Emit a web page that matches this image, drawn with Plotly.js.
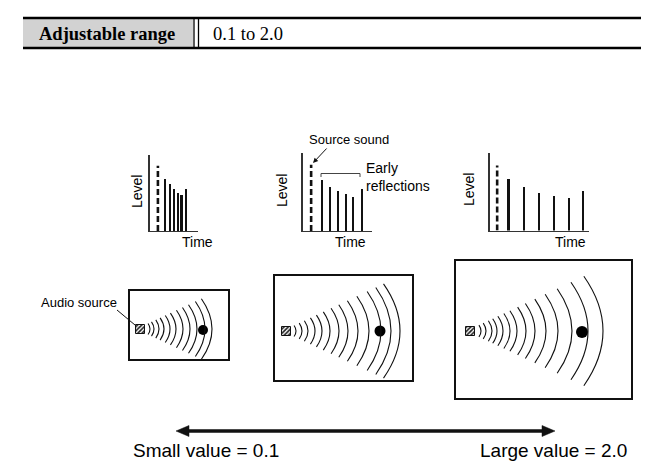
<!DOCTYPE html>
<html><head><meta charset="utf-8">
<script src="https://cdn.plot.ly/plotly-3.0.1.min.js"></script>
<style>html,body{margin:0;padding:0;background:#fff}</style>
</head><body><div id="chart" style="width:648px;height:461px"></div>
<script>
// ---- data ----
const panelNames = ["Small value = 0.1", "Large value = 2.0"];
const rangeLabel = "Adjustable range";
const rangeValue = "0.1 to 2.0";

// source-sound level (dashed) and early reflection levels, 0-100 scale
const smallSourceTime = [8.5],  smallSourceLevel = [86];
const smallReflTime  = [16, 20.7, 24.7, 28.4, 32.4, 36.7];
const smallReflLevel = [69, 62, 55, 50, 48, 55];

const midSourceTime = [8.7],  midSourceLevel = [85];
const midReflTime  = [19.4, 27.7, 35.4, 43.7, 51, 59.7];
const midReflLevel = [65, 57, 51, 47, 44, 54];

const largeSourceTime = [7.7], largeSourceLevel = [84];
const largeReflTime  = [19, 34.7, 50, 65, 79.7, 94];
const largeReflLevel = [67, 56, 49, 45, 42, 51];

// wave-front offsets from the audio source in each room
const room1Waves = [10, 14, 19, 24, 30, 36, 43, 50, 57, 65, 72];
const room2Waves = [10, 16, 22, 29, 36, 44, 53, 62, 72, 83, 95, 105, 114];
const room3Waves = [11, 16, 22, 27, 33, 40, 47, 56, 65, 76, 88, 102, 118, 133];

// ---- layout helpers (pixel geometry) ----
const W = 648, H = 461;
const px = v => v / W, py = v => 1 - v / H;
const rooms = [
  {x0:129, x1:229, y0:290, y1:360, sx:140, sy:329, dx:203, dy:330, dot:10, waves:room1Waves},
  {x0:274, x1:413, y0:275, y1:381, sx:286, sy:331, dx:380, dy:331, dot:11, waves:room2Waves},
  {x0:455, x1:632, y0:260, y1:399, sx:470, sy:331, dx:582, dy:332, dot:12, waves:room3Waves}
];

const traces = [];
const shapes = [];
const annotations = [];

// level charts
const panels = [
  {ax:'2', st:smallSourceTime, sl:smallSourceLevel, rt:smallReflTime, rl:smallReflLevel,
   dom:[px(149.5), px(198)], ydom:[py(231), py(155)], xr:49},
  {ax:'3', st:midSourceTime, sl:midSourceLevel, rt:midReflTime, rl:midReflLevel,
   dom:[px(302.5), px(372)], ydom:[py(231), py(153)], xr:70},
  {ax:'4', st:largeSourceTime, sl:largeSourceLevel, rt:largeReflTime, rl:largeReflLevel,
   dom:[px(489.5), px(589)], ydom:[py(230.5), py(153)], xr:100}
];
const layout = {
  width: W, height: H, margin:{l:0,r:0,t:0,b:0},
  paper_bgcolor:'#fff', plot_bgcolor:'rgba(0,0,0,0)', showlegend:false,
  xaxis:{domain:[0,1], range:[0,W], visible:false, fixedrange:true, anchor:'y'},
  yaxis:{domain:[0,1], range:[H,0], visible:false, fixedrange:true, anchor:'x'},
  bargap:0
};
panels.forEach(p => {
  const xa = 'x'+p.ax, ya = 'y'+p.ax;
  traces.push({type:'bar', x:p.rt, y:p.rl, width:p.rt.map(()=>2.2), xaxis:xa, yaxis:ya,
    marker:{color:'#111', line:{width:0}}, hoverinfo:'skip'});
  const dx = [], dy = [];
  p.st.forEach((t,i)=>{ dx.push(t,t,null); dy.push(0,p.sl[i],null); });
  traces.push({type:'scatter', mode:'lines', x:dx, y:dy, xaxis:xa, yaxis:ya,
    line:{color:'#111', width:2.6, dash:'6px,3px'}, hoverinfo:'skip'});
  layout['xaxis'+p.ax] = {domain:p.dom, range:[0,p.xr], anchor:ya, showline:true, linecolor:'#333',
    linewidth:1.2, showgrid:false, zeroline:false, showticklabels:false, ticks:'', fixedrange:true};
  layout['yaxis'+p.ax] = {domain:p.ydom, range:[0,100], anchor:xa, showline:true, linecolor:'#333',
    linewidth:1.2, showgrid:false, zeroline:false, showticklabels:false, ticks:'', fixedrange:true};
});

// header table
shapes.push({type:'rect', xref:'x', yref:'y', x0:23, x1:193, y0:19, y1:47, fillcolor:'#d2d2d2', line:{width:0}, layer:'below'});
shapes.push({type:'line', xref:'x', yref:'y', x0:23, x1:641, y0:18, y1:18, line:{color:'#000', width:2.5}});
shapes.push({type:'line', xref:'x', yref:'y', x0:23, x1:641, y0:48, y1:48, line:{color:'#000', width:2.5}});
shapes.push({type:'line', xref:'x', yref:'y', x0:194, x1:194, y0:18, y1:48, line:{color:'#000', width:1.3}});
shapes.push({type:'line', xref:'x', yref:'y', x0:198.5, x1:198.5, y0:18, y1:48, line:{color:'#000', width:1.3}});
annotations.push({xref:'x', yref:'y', x:37, y:34, xanchor:'left', yanchor:'middle', showarrow:false,
  text:'<b>'+rangeLabel+'</b>', font:{family:'Liberation Serif', size:18.5, color:'#000'}});
annotations.push({xref:'x', yref:'y', x:211, y:34, xanchor:'left', yanchor:'middle', showarrow:false,
  text:rangeValue, font:{family:'Liberation Serif', size:18.5, color:'#000'}});

// rooms
const srcX = [], srcY = [], dotX = [], dotY = [], dotS = [];
rooms.forEach(r => {
  shapes.push({type:'rect', xref:'x', yref:'y', x0:r.x0, x1:r.x1, y0:r.y0, y1:r.y1,
    line:{color:'#111', width:2}, fillcolor:'rgba(0,0,0,0)'});
  r.waves.forEach(d => {
    const h = 0.4*d + 1.5, s = 0.35*h;
    const xm = r.sx + d;
    shapes.push({type:'path', xref:'x', yref:'y',
      path:`M${xm-s},${r.sy-h} Q${xm+s},${r.sy} ${xm-s},${r.sy+h}`,
      line:{color:'#111', width:1.1}});
  });
  srcX.push(r.sx); srcY.push(r.sy);
  dotX.push(r.dx); dotY.push(r.dy); dotS.push(r.dot);
});
traces.push({type:'bar', x:srcX, y:srcX.map(()=>9), base:srcY.map(v=>v-4.5), width:srcX.map(()=>9),
  xaxis:'x', yaxis:'y', hoverinfo:'skip',
  marker:{color:'#fff', line:{color:'#111', width:1},
    pattern:{shape:'/', fgcolor:'#222', bgcolor:'#fff', size:3, solidity:0.55}}});
traces.push({type:'scatter', mode:'markers', x:dotX, y:dotY, xaxis:'x', yaxis:'y', hoverinfo:'skip',
  marker:{color:'#000', size:dotS, opacity:1, line:{width:0}}});

// texts
const lab = {family:'Liberation Sans, Arial', size:14, color:'#000'};
[[137,192],[282,191],[469,190]].forEach(p => annotations.push({xref:'x', yref:'y', x:p[0], y:p[1],
  text:'Level', textangle:-90, showarrow:false, font:lab}));
[[197,242],[350,242],[570,242]].forEach(p => annotations.push({xref:'x', yref:'y', x:p[0], y:p[1],
  text:'Time', showarrow:false, font:lab}));
annotations.push({xref:'x', yref:'y', x:349, y:139, text:'Source sound', showarrow:false,
  font:{family:'Liberation Sans, Arial', size:13, color:'#000'}});
annotations.push({xref:'x', yref:'y', x:364, y:177, xanchor:'left', align:'left',
  text:'Early<br>reflections', showarrow:false, font:{family:'Liberation Sans, Arial', size:14, color:'#000'}});
annotations.push({xref:'x', yref:'y', x:119, y:302, xanchor:'right', text:'Audio source', showarrow:false,
  font:{family:'Liberation Sans, Arial', size:13, color:'#000'}});
annotations.push({xref:'x', yref:'y', x:313, y:163, axref:'x', ayref:'y', ax:328, ay:147, text:'',
  showarrow:true, arrowhead:2, arrowsize:1, arrowwidth:1, arrowcolor:'#111'});
shapes.push({type:'line', xref:'x', yref:'y', x0:117, y0:310, x1:135, y1:325, line:{color:'#111', width:1}});
shapes.push({type:'path', xref:'x', yref:'y', path:'M321,177 L321,173.5 L360,173.5 L360,177', line:{color:'#444', width:1}});

// big arrow
shapes.push({type:'line', xref:'x', yref:'y', x0:186, x1:545, y0:431, y1:431, line:{color:'#111', width:3.5}});
shapes.push({type:'path', xref:'x', yref:'y', path:'M176,431 L189,425.5 L189,436.5 Z', fillcolor:'#111', line:{color:'#111', width:0.5}});
shapes.push({type:'path', xref:'x', yref:'y', path:'M555,431 L542,425.5 L542,436.5 Z', fillcolor:'#111', line:{color:'#111', width:0.5}});
const big = {family:'Liberation Sans, Arial', size:19, color:'#000'};
annotations.push({xref:'x', yref:'y', x:131, y:450, xanchor:'left', text:panelNames[0], showarrow:false, font:big});
annotations.push({xref:'x', yref:'y', x:478, y:450, xanchor:'left', text:panelNames[1], showarrow:false, font:big});

layout.shapes = shapes;
layout.annotations = annotations;
Plotly.newPlot('chart', traces, layout, {staticPlot:true, displayModeBar:false});
</script></body></html>
